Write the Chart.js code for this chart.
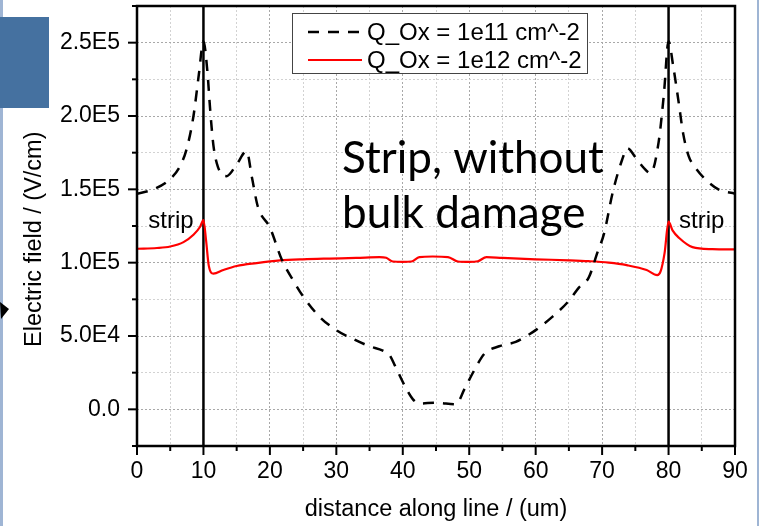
<!DOCTYPE html>
<html>
<head>
<meta charset="utf-8">
<script src="https://cdn.jsdelivr.net/npm/chart.js@4/dist/chart.umd.min.js"></script>
<style>
  body { margin: 0; background: #fff; }
  #wrap { position: relative; width: 760px; height: 526px; overflow: hidden; background: #fff; }
  #chart { position: absolute; left: 0; top: 0; }
  .edge { position: absolute; top: 0; height: 526px; background: #9fb5d4; }
  #tab { position: absolute; left: 0; top: 17px; width: 49px; height: 91px; background: #4571a0; }
  #arrow { position: absolute; left: 0; top: 298px; }
</style>
</head>
<body>
<div id="wrap">
  <canvas id="chart" width="760" height="526"></canvas>
  <div class="edge" style="left:0;width:3px"></div>
  <div class="edge" style="left:757px;width:2px"></div>
  <div id="tab"></div>
  <svg id="arrow" width="12" height="26"><polygon points="0,4 9,11 1,21" fill="#000"/></svg>
</div>
<script>
// field along the cut line, two oxide charge densities
const seriesLabels = ['Q_Ox = 1e11 cm^-2', 'Q_Ox = 1e12 cm^-2'];

const lowOxDistance = [0, 2.5, 5, 6.5, 7.5, 8.5, 9.3, 10, 10.6, 11, 11.5, 12.2, 13.5, 15, 16.5, 17.3, 18.2, 20, 21.8, 23.5,
  25, 27.5, 30, 32.5, 35, 37, 38, 38.8, 40.3, 41.5, 42.5, 45, 48, 49.3, 50.8, 52.3, 54.5, 57, 59, 60,
  62.5, 65, 66.5, 68, 69.3, 70.3, 71.6, 73, 73.8, 75, 76.2, 77.3, 78.5, 79.3, 80, 80.7, 81.5, 82.2, 83, 84,
  85.5, 87.5, 90];
const lowOxField = [147000, 150000, 157000, 166000, 178000, 200000, 228000, 251000, 230000, 205000, 180000, 165000, 159000, 167000, 176000, 158000, 138000, 124000, 102000, 88000,
  77000, 63000, 54000, 48000, 43000, 40000, 37000, 30000, 16000, 7000, 4000, 4500, 3500, 14000, 27000, 38000, 43000, 46000, 51000, 54000,
  63000, 74000, 83000, 90000, 107000, 120000, 148000, 170000, 178000, 172000, 165000, 161000, 182000, 215000, 251000, 234000, 210000, 188000, 173000, 165000,
  157000, 150000, 147000];

const highOxDistance = [0, 3, 5, 7, 8.5, 9.5, 10, 10.4, 10.8, 11.5, 13, 15, 18, 21.5, 25, 29, 33,
  36.5, 37.5, 38.5, 40, 41.3, 42.5, 44.5, 46.8, 48.3, 50,
  51.3, 52.6, 55, 60, 65, 68, 71, 73.7, 76.7, 78.3,
  78.8, 79.4, 80, 80.6, 81.6, 83.6, 86.6, 90];
const highOxField = [109500, 110000, 111000, 114000, 119000, 124500, 129000, 115000, 98000, 92500, 95000, 97700, 99700, 101500, 102300, 102800, 103200,
  103800, 103300, 100800, 100500, 100800, 103800, 104200, 103800, 100800, 100500,
  101000, 103800, 103200, 102300, 101600, 101000, 100000, 98300, 95000, 91500,
  94000, 106500, 128000, 122000, 116800, 110600, 109200, 109000];

// strip implant edges (um)
const stripEdges = [10, 80];

const sans = 'Arial, "Liberation Sans", sans-serif';
Chart.defaults.font.family = sans;
Chart.defaults.color = '#000';

function sci(v) {
  if (v === 0) return '0.0';
  const e = Math.floor(Math.log10(Math.abs(v)) + 1e-9);
  return (v / Math.pow(10, e)).toFixed(1) + 'E' + e;
}
const isMajorY = v => Math.round(v) % 50000 === 0;
const isMajorX = v => Math.round(v) % 10 === 0;

const decorations = {
  id: 'decorations',
  beforeDatasetsDraw(chart) {
    const { ctx, chartArea: a, scales: { x } } = chart;
    ctx.save();
    ctx.strokeStyle = '#000';
    ctx.lineWidth = 2.5;
    stripEdges.forEach(d => {
      const px = x.getPixelForValue(d);
      ctx.beginPath();
      ctx.moveTo(px, a.top);
      ctx.lineTo(px, a.bottom);
      ctx.stroke();
    });
    ctx.restore();
  },
  afterDraw(chart) {
    const { ctx, chartArea: a, scales: { x, y } } = chart;
    ctx.save();

    // frame
    ctx.strokeStyle = '#000';
    ctx.lineWidth = 2.5;
    ctx.strokeRect(a.left, a.top, a.right - a.left, a.bottom - a.top);

    // outward tick marks
    ctx.lineWidth = 2;
    x.ticks.forEach(t => {
      const px = x.getPixelForValue(t.value);
      ctx.beginPath();
      ctx.moveTo(px, a.bottom);
      ctx.lineTo(px, a.bottom + (isMajorX(t.value) ? 9 : 5));
      ctx.stroke();
    });
    y.ticks.forEach(t => {
      const py = y.getPixelForValue(t.value);
      ctx.beginPath();
      ctx.moveTo(a.left, py);
      ctx.lineTo(a.left - (isMajorY(t.value) ? 9 : 5), py);
      ctx.stroke();
    });

    // y axis title, sitting a little below the middle of the axis
    ctx.save();
    ctx.translate(35, y.getPixelForValue(116000));
    ctx.rotate(-Math.PI / 2);
    ctx.fillStyle = '#000';
    ctx.font = '23.5px ' + sans;
    ctx.textAlign = 'center';
    ctx.textBaseline = 'middle';
    ctx.fillText('Electric field / (V/cm)', 0, 0);
    ctx.restore();

    // "strip" labels
    ctx.fillStyle = '#000';
    ctx.font = '24px ' + sans;
    ctx.textAlign = 'center';
    ctx.textBaseline = 'middle';
    ctx.fillText('strip', x.getPixelForValue(5.1), y.getPixelForValue(128000));
    ctx.fillText('strip', x.getPixelForValue(85), y.getPixelForValue(128000));

    // legend box
    const lx = 292, ly = 13, lw = 295, lh = 60;
    ctx.fillStyle = '#fff';
    ctx.fillRect(lx, ly, lw, lh);
    ctx.strokeStyle = '#444';
    ctx.lineWidth = 1;
    ctx.strokeRect(lx + 0.5, ly + 0.5, lw, lh);
    chart.data.datasets.forEach((ds, i) => {
      const rowY = ly + 19 + i * 28;
      ctx.save();
      ctx.strokeStyle = ds.borderColor;
      ctx.lineWidth = ds.borderWidth;
      ctx.setLineDash(ds.borderDash || []);
      ctx.beginPath();
      ctx.moveTo(lx + 16, rowY);
      ctx.lineTo(lx + 70, rowY);
      ctx.stroke();
      ctx.restore();
      ctx.fillStyle = '#000';
      ctx.font = '24px ' + sans;
      ctx.textAlign = 'left';
      ctx.textBaseline = 'middle';
      ctx.fillText(ds.label, lx + 75, rowY + 1);
    });

    // slide caption over the plot
    ctx.fillStyle = '#000';
    ctx.font = '44px Lato, "Open Sans", sans-serif';
    ctx.textAlign = 'left';
    ctx.textBaseline = 'alphabetic';
    ctx.fillText('Strip, without', 342, 173);
    ctx.fillText('bulk damage', 342, 228);

    ctx.restore();
  }
};

new Chart(document.getElementById('chart'), {
  type: 'line',
  data: {
    datasets: [
      {
        label: seriesLabels[0],
        data: lowOxDistance.map((d, i) => ({ x: d, y: lowOxField[i] })),
        borderColor: '#000',
        borderWidth: 2.5,
        borderDash: [11, 9],
        pointRadius: 0,
        cubicInterpolationMode: 'monotone',
        fill: false
      },
      {
        label: seriesLabels[1],
        data: highOxDistance.map((d, i) => ({ x: d, y: highOxField[i] })),
        borderColor: '#ff0000',
        borderWidth: 2.2,
        pointRadius: 0,
        cubicInterpolationMode: 'monotone',
        fill: false
      }
    ]
  },
  options: {
    responsive: false,
    animation: false,
    layout: { padding: { left: 17, right: 25, top: 6, bottom: 0 } },
    plugins: { legend: { display: false }, tooltip: { enabled: false } },
    scales: {
      x: {
        type: 'linear',
        min: 0,
        max: 90,
        afterFit: s => { s.height = 80; },
        ticks: {
          stepSize: 5,
          autoSkip: false,
          maxRotation: 0,
          padding: 12,
          font: { size: 23 },
          callback: v => isMajorX(v) ? String(v) : ''
        },
        grid: {
          drawTicks: false,
          lineWidth: 1,
          color: c => (c.tick && isMajorX(c.tick.value)) ? '#a8a8a8' : '#d2d2d2'
        },
        border: { display: false, dash: [2, 2] },
        title: {
          display: true,
          text: 'distance along line / (um)',
          font: { size: 23.5 },
          padding: { top: 4, bottom: 2 }
        }
      },
      y: {
        min: -25000,
        max: 275000,
        afterFit: s => { s.width = 120; s.paddingTop = 0; s.paddingBottom = 0; },
        ticks: {
          stepSize: 25000,
          autoSkip: false,
          padding: 17,
          font: { size: 23 },
          callback: v => (isMajorY(v) && v >= 0) ? sci(Math.round(v)) : ''
        },
        grid: {
          drawTicks: false,
          lineWidth: 1,
          color: c => (c.tick && isMajorY(c.tick.value)) ? '#a8a8a8' : '#d2d2d2'
        },
        border: { display: false, dash: [2, 2] },
        title: { display: false }
      }
    }
  },
  plugins: [decorations]
});
</script>
</body>
</html>
